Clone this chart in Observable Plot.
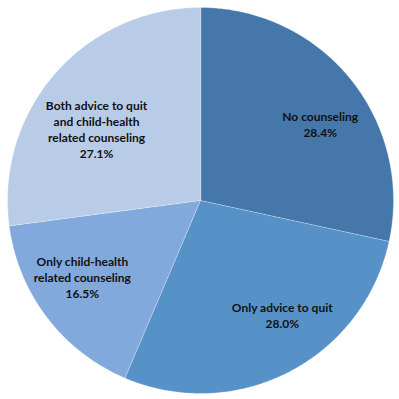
<!DOCTYPE html>
<html>
<head>
<meta charset="utf-8">
<script src="https://cdn.jsdelivr.net/npm/d3@7"></script>
<script src="https://cdn.jsdelivr.net/npm/@observablehq/plot@0.6"></script>
<style>
  html, body { margin: 0; padding: 0; background: #fff; }
  #chart svg { display: block; }
</style>
</head>
<body>
<div id="chart"></div>
<script>
// Data
const categories = [
  "No counseling",
  "Only advice to quit",
  "Only child-health\nrelated counseling",
  "Both advice to quit\nand child-health\nrelated counseling"
];
const values = [28.4, 28.0, 16.5, 27.1];
const colors = ["#4677ab", "#5691c8", "#82a9dc", "#b8cce8"];

// Layout (not data)
const labelRadius = 0.73;
const labelOffsets = [[10, 12], [17, -11], [-6, -9], [2, 21]];

const total = d3.sum(values);
const pie = d3.pie().sort(null).value(d => d.value)(
  categories.map((c, i) => ({ name: c, value: values[i], color: colors[i] }))
);

// Build slice outlines (angles measured clockwise from 12 o'clock)
const slicePts = [];
pie.forEach((s, i) => {
  const n = Math.max(2, Math.ceil((s.endAngle - s.startAngle) / (Math.PI / 360)));
  slicePts.push({ k: i, x: 0, y: 0, color: s.data.color });
  for (let j = 0; j <= n; j++) {
    const a = s.startAngle + (s.endAngle - s.startAngle) * j / n;
    slicePts.push({ k: i, x: Math.sin(a), y: Math.cos(a), color: s.data.color });
  }
});

const labels = pie.map((s, i) => {
  const a = (s.startAngle + s.endAngle) / 2;
  return {
    i,
    x: labelRadius * Math.sin(a),
    y: labelRadius * Math.cos(a),
    text: s.data.name + "\n" + s.data.value.toFixed(1) + "%"
  };
});

const chart = Plot.plot({
  width: 399,
  height: 399,
  margin: 0,
  style: { fontFamily: "Lato, 'Open Sans', sans-serif", background: "#fff" },
  x: { domain: [-1, 1], range: [7, 393], axis: null },
  y: { domain: [-1, 1], range: [393, 7], axis: null },
  marks: [
    Plot.line(slicePts, {
      x: "x", y: "y", z: "k",
      fill: "color", stroke: "#ffffff", strokeWidth: 0.6, strokeOpacity: 0.5,
      curve: "linear-closed"
    }),
    ...labels.map(l => Plot.text([l], {
      x: "x", y: "y", text: "text",
      dx: labelOffsets[l.i][0], dy: labelOffsets[l.i][1],
      fontSize: 12, fontWeight: "bold", fill: "#111",
      lineHeight: 1.33, textAnchor: "middle"
    }))
  ]
});
document.getElementById("chart").appendChild(chart);
</script>
</body>
</html>
